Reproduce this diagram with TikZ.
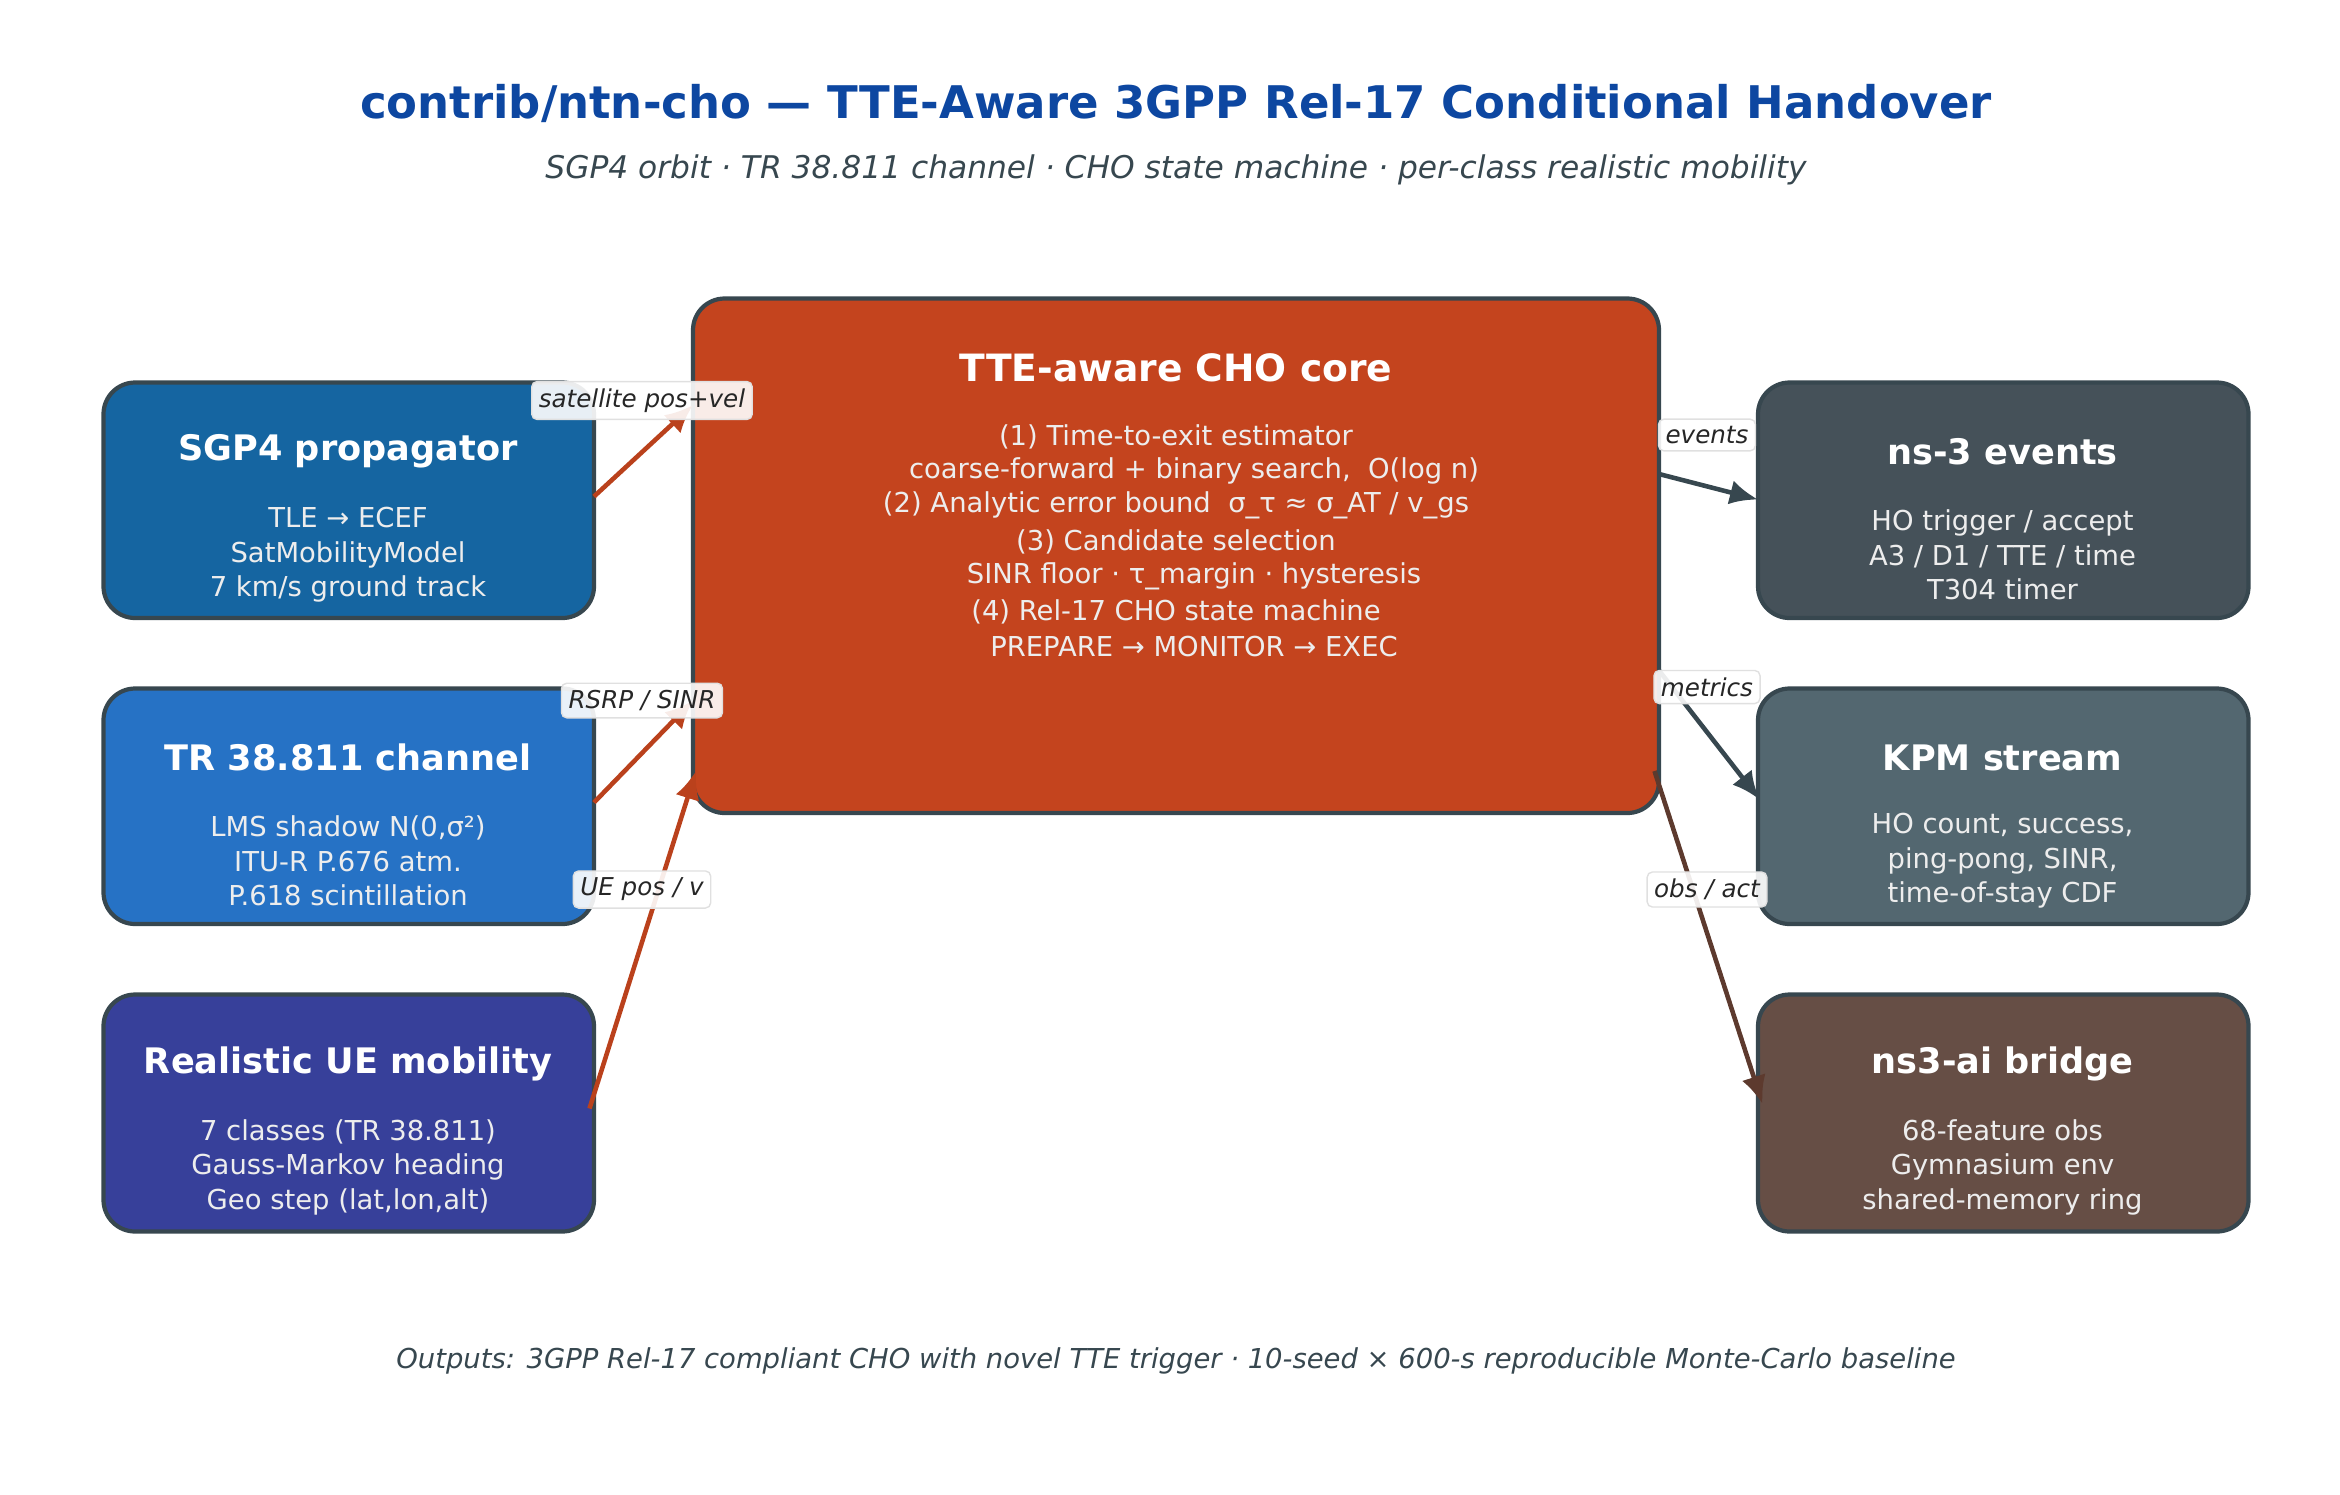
\documentclass[tikz,border=0pt]{standalone}
\usepackage{fontspec}
\setmainfont{DejaVu Sans}
\usetikzlibrary{arrows.meta}
\definecolor{bd}{HTML}{37474F}
\definecolor{cA}{HTML}{1565A1}
\definecolor{cB}{HTML}{2672C5}
\definecolor{cC}{HTML}{37409A}
\definecolor{cD}{HTML}{C4441E}
\definecolor{cE}{HTML}{455159}
\definecolor{cF}{HTML}{536770}
\definecolor{cG}{HTML}{664E45}
\definecolor{tt}{HTML}{0D47A1}
\definecolor{sub}{HTML}{37474F}
\definecolor{brn}{HTML}{5D3A2E}
\begin{document}
\begin{tikzpicture}[x=0.015cm,y=-0.015cm,
 box/.style={draw=bd,line width=1.2pt,rounded corners=9pt},
 bt/.style={text=white,font=\bfseries\fontsize{10}{12}\selectfont},
 bb/.style={text=white!93!black,align=center,font=\fontsize{7.8}{9.8}\selectfont},
 lab/.style={draw=black!12,fill=white,fill opacity=0.9,text opacity=1,rounded corners=1.5pt,inner sep=2pt,font=\itshape\fontsize{7}{8}\selectfont,text=black!85},
 arr/.style={-{Latex[length=8pt,width=7pt]},line width=1.3pt}]
\useasboundingbox (0,0) rectangle (1560,996);
\node (title) at (784,69) {\textcolor{tt}{\bfseries\fontsize{12.8}{15}\selectfont contrib/ntn-cho — TTE-Aware 3GPP Rel-17 Conditional Handover}};
\node (subt) at (784,113) [text=sub,font=\itshape\fontsize{8.9}{11}\selectfont] {SGP4 orbit · TR 38.811 channel · CHO state machine · per-class realistic mobility};
\node (foot) at (784,907) [text=sub,font=\itshape\fontsize{7.8}{10}\selectfont] {Outputs: 3GPP Rel-17 compliant CHO with novel TTE trigger · 10-seed × 600-s reproducible Monte-Carlo baseline};
% left boxes
\draw[box,fill=cA] (69,255) rectangle (396,412);
\node[bt] (sgpT) at (232,301) {SGP4 propagator};
\node[bb] (sgpB) at (232,370) {TLE → ECEF\\SatMobilityModel\\7 km/s ground track};
\draw[box,fill=cB] (69,459) rectangle (396,616);
\node[bt] (trT) at (232,505) {TR 38.811 channel};
\node[bb] (trB) at (232,574) {LMS shadow N(0,σ²)\\ITU-R P.676 atm.\\P.618 scintillation};
\draw[box,fill=cC] (69,663) rectangle (396,821);
\node[bt] (ueT) at (232,709) {Realistic UE mobility};
\node[bb] (ueB) at (232,778) {7 classes (TR 38.811)\\Gauss-Markov heading\\Geo step (lat,lon,alt)};
% core
\draw[box,fill=cD] (462,199) rectangle (1106,542);
\node[bt,font=\bfseries\fontsize{10.7}{13}\selectfont] (coreT) at (784,245) {TTE-aware CHO core};
\foreach \t/\x/\y in {{(1) Time-to-exit estimator}/784/291,{coarse-forward + binary search,\ \ O(log n)}/796/314,{(2) Analytic error bound\ \ σ\_τ ≈ σ\_AT / v\_gs}/784/337,{(3) Candidate selection}/784/361,{SINR floor · τ\_margin · hysteresis}/796/384,{(4) Rel-17 CHO state machine}/784/408,{PREPARE → MONITOR → EXEC}/796/431}
  \node[bb] at (\x,\y) {\t};
% right
\draw[box,fill=cE] (1172,255) rectangle (1499,412);
\node[bt] (evT) at (1335,301) {ns-3 events};
\node[bb] (evB) at (1335,370) {HO trigger / accept\\A3 / D1 / TTE / time\\T304 timer};
\draw[box,fill=cF] (1172,459) rectangle (1499,616);
\node[bt] (kpT) at (1335,505) {KPM stream};
\node[bb] (kpB) at (1335,574) {HO count, success,\\ping-pong, SINR,\\time-of-stay CDF};
\draw[box,fill=cG] (1172,663) rectangle (1499,821);
\node[bt] (aiT) at (1335,709) {ns3-ai bridge};
\node[bb] (aiB) at (1335,778) {68-feature obs\\Gymnasium env\\shared-memory ring};
% coordinates
\coordinate (a1) at (396,331); \coordinate (a2) at (462,270);
\coordinate (b1) at (396,535); \coordinate (b2) at (462,467);
\coordinate (c1) at (393,739); \coordinate (c2) at (464,514);
\coordinate (d1) at (1106,316); \coordinate (d2) at (1172,333);
\coordinate (e1) at (1106,447); \coordinate (e2) at (1173,533);
\coordinate (f1) at (1103,514); \coordinate (f2) at (1175,736);
\draw[arr,draw=cD!95!black] (a1) -- (a2);
\draw[arr,draw=cD!95!black] (b1) -- (b2);
\draw[arr,draw=cD!95!black] (c1) -- (c2);
\draw[arr,draw=bd] (d1) -- (d2);
\draw[arr,draw=bd] (e1) -- (e2);
\draw[arr,draw=brn] (f1) -- (f2);
\node[lab] (l1) at (428,267) {satellite pos+vel};
\node[lab] (l2) at (428,467) {RSRP / SINR};
\node[lab] (l3) at (428,593) {UE pos / v};
\node[lab] (l4) at (1138,290) {events};
\node[lab] (l5) at (1138,458) {metrics};
\node[lab] (l6) at (1138,593) {obs / act};
\end{tikzpicture}
\end{document}
